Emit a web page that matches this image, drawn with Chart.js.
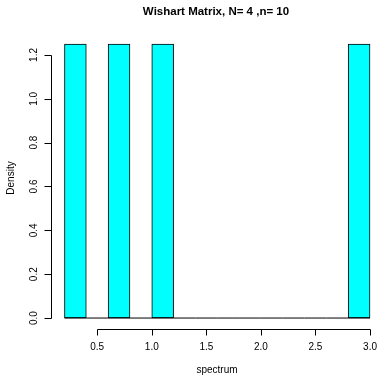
<!DOCTYPE html>
<html>
<head>
<meta charset="utf-8">
<script src="https://cdn.jsdelivr.net/npm/chart.js@4/dist/chart.umd.min.js"></script>
<style>
  html, body { margin: 0; padding: 0; background: #fff; }
  #grafico { display: block; }
</style>
</head>
<body>
<canvas id="grafico" width="377" height="375"></canvas>
<script>
// histogram data
const breaks = [0.2, 0.4, 0.6, 0.8, 1.0, 1.2, 1.4, 1.6, 1.8, 2.0, 2.2, 2.4, 2.6, 2.8, 3.0];
const density = [1.25, 0, 1.25, 0, 1.25, 0, 0, 0, 0, 0, 0, 0, 0, 1.25];
const xTicks = [0.5, 1.0, 1.5, 2.0, 2.5, 3.0];
const yTicks = [0.0, 0.2, 0.4, 0.6, 0.8, 1.0, 1.2];
const titulo = "Wishart Matrix, N= 4 ,n= 10";
const xLabel = "spectrum";
const yLabel = "Density";

const fonte = '"Liberation Sans", Arial, Helvetica, sans-serif';

const barras = density.map((d, i) => ({ x: (breaks[i] + breaks[i + 1]) / 2, y: d }));
const baseLinha = breaks.map(b => ({ x: b, y: 0 }));

// R-style axes, drawn from the chart's own scales
const eixosR = {
    id: "eixosR",
    afterDraw(chart) {
        const ctx = chart.ctx;
        const xs = chart.scales.x;
        const ys = chart.scales.y;
        const area = chart.chartArea;
        ctx.save();
        ctx.strokeStyle = "#000";
        ctx.fillStyle = "#000";
        ctx.lineWidth = 1;

        // y axis
        const xEixo = Math.round(area.left) + 0.5;
        ctx.beginPath();
        ctx.moveTo(xEixo, Math.round(ys.getPixelForValue(yTicks[0])) + 0.5);
        ctx.lineTo(xEixo, Math.round(ys.getPixelForValue(yTicks[yTicks.length - 1])) + 0.5);
        yTicks.forEach(t => {
            const py = Math.round(ys.getPixelForValue(t)) + 0.5;
            ctx.moveTo(xEixo, py);
            ctx.lineTo(xEixo - 7, py);
        });
        ctx.stroke();
        ctx.font = "10px " + fonte;
        ctx.textAlign = "center";
        ctx.textBaseline = "middle";
        yTicks.forEach(t => {
            const py = ys.getPixelForValue(t);
            ctx.save();
            ctx.translate(34, py);
            ctx.rotate(-Math.PI / 2);
            ctx.fillText(t.toFixed(1), 0, 0);
            ctx.restore();
        });

        // x axis
        const yEixo = Math.round(area.bottom) + 0.5;
        ctx.beginPath();
        ctx.moveTo(Math.round(xs.getPixelForValue(xTicks[0])) + 0.5, yEixo);
        ctx.lineTo(Math.round(xs.getPixelForValue(xTicks[xTicks.length - 1])) + 0.5, yEixo);
        xTicks.forEach(t => {
            const px = Math.round(xs.getPixelForValue(t)) + 0.5;
            ctx.moveTo(px, yEixo);
            ctx.lineTo(px, yEixo + 6);
        });
        ctx.stroke();
        xTicks.forEach(t => {
            ctx.fillText(t.toFixed(1), xs.getPixelForValue(t), 347);
        });

        // titles
        ctx.fillText(xLabel, 217, 370);
        ctx.save();
        ctx.translate(11, 178);
        ctx.rotate(-Math.PI / 2);
        ctx.fillText(yLabel, 0, 0);
        ctx.restore();
        ctx.font = "bold 11.5px " + fonte;
        ctx.fillText(titulo, 216, 12);
        ctx.restore();
    }
};

const ctx = document.getElementById("grafico").getContext("2d");
const grafico = new Chart(ctx, {
    type: "bar",
    data: {
        datasets: [{
            label: "density",
            data: barras,
            backgroundColor: "#00ffff",
            borderColor: "#000",
            borderWidth: 1,
            borderSkipped: false,
            categoryPercentage: 1.0,
            barPercentage: 1.0,
            grouped: false,
            order: 1
        }, {
            type: "line",
            label: "base",
            data: baseLinha,
            borderColor: "#000",
            borderWidth: 1,
            pointRadius: 0,
            fill: false,
            order: 0
        }]
    },
    options: {
        responsive: false,
        animation: false,
        events: [],
        layout: { padding: { left: 51, right: 0, top: 33, bottom: 46 } },
        plugins: {
            legend: { display: false },
            tooltip: { enabled: false },
            title: { display: false }
        },
        scales: {
            x: { type: "linear", min: 0.0764, max: 3.064, offset: false, display: false },
            y: { min: -0.05, max: 1.3, display: false }
        }
    },
    plugins: [eixosR]
});
</script>
</body>
</html>
